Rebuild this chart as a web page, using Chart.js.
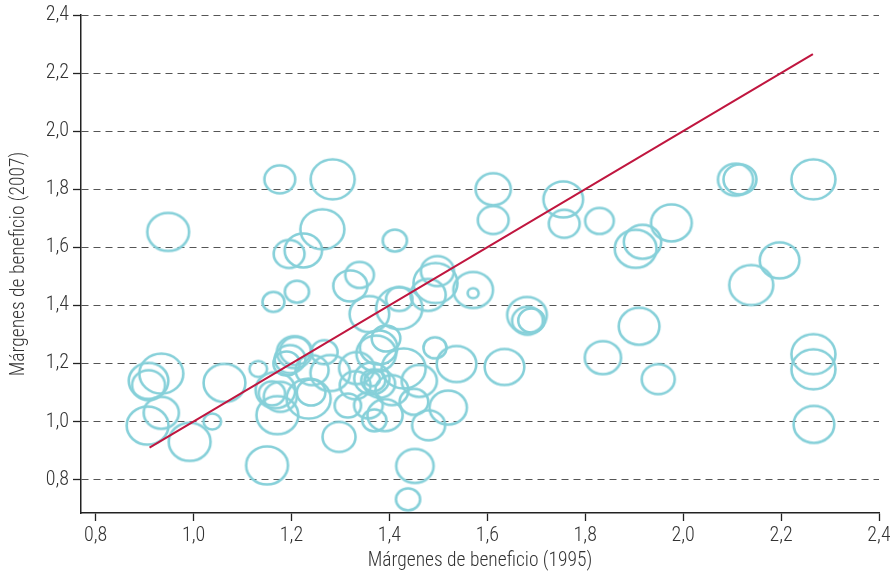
<!DOCTYPE html>
<html>
<head>
<meta charset="utf-8">
<script src="https://cdn.jsdelivr.net/npm/chart.js@4.4.1/dist/chart.umd.min.js"></script>
<style>
  html, body { margin: 0; padding: 0; background: #fff; }
  .chart-container { width: 890px; height: 576px; }
</style>
</head>
<body>
<div class="chart-container"><canvas id="marginChart" width="890" height="576"></canvas></div>
<script>
// profit margins 1995 (x) vs 2007 (y), bubble size = half height in px
const xValues = [
  0.906, 0.934, 0.992, 1.038, 0.934, 0.908, 0.908, 1.063, 0.948, 1.176,
  1.284, 1.263, 1.195, 1.224, 1.411, 1.211, 1.163, 1.339, 1.320, 1.359,
  1.420, 1.420, 1.479, 1.498, 1.494, 1.571, 1.571, 1.612, 1.612, 1.755,
  1.757, 1.829, 1.903, 1.917, 1.976, 2.107, 2.116, 2.266, 2.197, 2.139,
  1.910, 1.836, 1.949, 2.266, 2.266, 2.267, 1.681, 1.682, 1.690, 1.635,
  1.537, 1.493, 1.520, 1.461, 1.450, 1.480, 1.452, 1.438, 1.429, 1.393,
  1.378, 1.373, 1.364, 1.367, 1.365, 1.333, 1.391, 1.369, 1.405, 1.357,
  1.297, 1.150, 1.132, 1.171, 1.160, 1.208, 1.197, 1.267, 1.167, 1.177,
  1.235, 1.242, 1.279, 1.206, 1.330, 1.315, 1.190, 1.240, 1.380
];
const yValues = [
  0.986, 1.030, 0.930, 1.000, 1.165, 1.140, 1.125, 1.133, 1.653, 1.834,
  1.834, 1.662, 1.577, 1.589, 1.623, 1.447, 1.412, 1.505, 1.467, 1.370,
  1.390, 1.422, 1.436, 1.518, 1.477, 1.453, 1.442, 1.800, 1.694, 1.765,
  1.681, 1.691, 1.595, 1.619, 1.684, 1.833, 1.834, 1.834, 1.555, 1.470,
  1.328, 1.220, 1.146, 1.232, 1.180, 0.990, 1.367, 1.347, 1.348, 1.188,
  1.198, 1.254, 1.048, 1.140, 1.068, 0.987, 0.847, 0.732, 1.183, 1.286,
  1.255, 1.234, 1.148, 1.142, 1.146, 1.184, 1.022, 1.004, 1.108, 1.056,
  0.947, 0.849, 1.181, 1.022, 1.097, 1.243, 1.215, 1.239, 1.108, 1.085,
  1.079, 1.177, 1.167, 1.239, 1.125, 1.055, 1.200, 1.100, 1.130
];
const sizes = [
  20, 17, 20, 9, 21, 19, 16, 20, 20, 15,
  21, 21, 15, 18, 12, 12, 11, 14, 16.5, 19,
  22, 13, 17, 16, 21, 19, 6, 17, 15, 19,
  15, 14, 20, 18, 19.5, 17, 16, 21, 19, 21,
  19.5, 17.5, 16, 21, 21, 19.5, 19, 15, 13, 19,
  19, 11.5, 18, 17, 14, 16, 18, 12, 21, 14,
  18, 19, 17, 12, 8, 17, 17, 12, 16, 14,
  16, 20, 9, 20, 13, 15, 15, 13, 19, 16,
  21, 16, 19, 17, 15, 13, 13, 14, 15
];
const lineX = [0.91, 2.265];
const lineY = [0.91, 2.265];
const xTicks = [0.8, 1.0, 1.2, 1.4, 1.6, 1.8, 2.0, 2.2, 2.4];
const yTicks = [0.8, 1.0, 1.2, 1.4, 1.6, 1.8, 2.0, 2.2, 2.4];

const teal = '#86d0d9';
const crimson = '#c0163f';
const fontFamily = "'Liberation Sans Narrow', 'Roboto Condensed', 'DejaVu Sans Condensed', 'Liberation Sans', sans-serif";
const textColor = '#333';

// bubbles in the original are slightly wider than tall, so draw them as ellipse images
const ellipseCache = {};
function ellipseFor(r) {
  if (ellipseCache[r]) return ellipseCache[r];
  const lw = 2.6;
  const ry = r - 1;
  const rx = ry * 1.1;
  const c = document.createElement('canvas');
  c.width = Math.ceil(2 * rx + lw + 4);
  c.height = Math.ceil(2 * ry + lw + 4);
  const g = c.getContext('2d');
  g.strokeStyle = teal;
  g.lineWidth = lw;
  g.beginPath();
  g.ellipse(c.width / 2, c.height / 2, rx, ry, 0, 0, Math.PI * 2);
  g.stroke();
  ellipseCache[r] = c;
  return c;
}

const fmt = v => v.toFixed(1).replace('.', ',');

const ctx = document.getElementById('marginChart').getContext('2d');
new Chart(ctx, {
  type: 'bubble',
  data: {
    datasets: [
      {
        type: 'line',
        data: lineX.map((x, i) => ({ x: x, y: lineY[i] })),
        borderColor: crimson,
        borderWidth: 2,
        pointRadius: 0,
        fill: false
      },
      {
        type: 'bubble',
        data: xValues.map((x, i) => ({ x: x, y: yValues[i], r: sizes[i] })),
        backgroundColor: 'rgba(0,0,0,0)',
        borderColor: teal,
        pointStyle: c => ellipseFor(c.raw.r),
        clip: false
      }
    ]
  },
  options: {
    responsive: false,
    animation: false,
    layout: { autoPadding: false, padding: { left: 0, right: 11, top: 15, bottom: 0 } },
    plugins: {
      legend: { display: false },
      tooltip: { enabled: false }
    },
    scales: {
      x: {
        type: 'linear',
        min: 0.77,
        max: 2.4,
        afterBuildTicks: s => { s.ticks = xTicks.map(v => ({ value: v })); },
        afterFit: s => { s.height = 63; s.paddingLeft = 0; s.paddingRight = 0; },
        grid: { drawOnChartArea: false, tickLength: 8, tickColor: '#222', tickWidth: 1.3 },
        border: { color: '#222', width: 1.5 },
        ticks: {
          callback: v => fmt(v),
          color: textColor,
          padding: 3,
          maxRotation: 0,
          font: { family: fontFamily, size: 20, weight: 300 }
        },
        title: {
          display: true,
          text: 'Márgenes de beneficio (1995)',
          color: textColor,
          padding: { top: 0, bottom: 3 },
          font: { family: fontFamily, size: 19.5, weight: 300 }
        }
      },
      y: {
        type: 'linear',
        min: 0.685,
        max: 2.4,
        afterBuildTicks: s => { s.ticks = yTicks.map(v => ({ value: v })); },
        afterFit: s => { s.width = 81; s.paddingTop = 0; s.paddingBottom = 0; },
        grid: {
          color: '#555',
          lineWidth: 1,
          tickLength: 8,
          tickColor: '#222',
          tickWidth: 1.3,
          tickBorderDash: []
        },
        border: { color: '#222', width: 1.5, dash: [7, 5] },
        ticks: {
          callback: v => fmt(v),
          color: textColor,
          padding: 4,
          font: { family: fontFamily, size: 20, weight: 300 }
        },
        title: {
          display: true,
          text: 'Márgenes de beneficio (2007)',
          color: textColor,
          padding: { top: 7, bottom: 0 },
          font: { family: fontFamily, size: 19.5, weight: 300 }
        }
      }
    }
  }
});
</script>
</body>
</html>
